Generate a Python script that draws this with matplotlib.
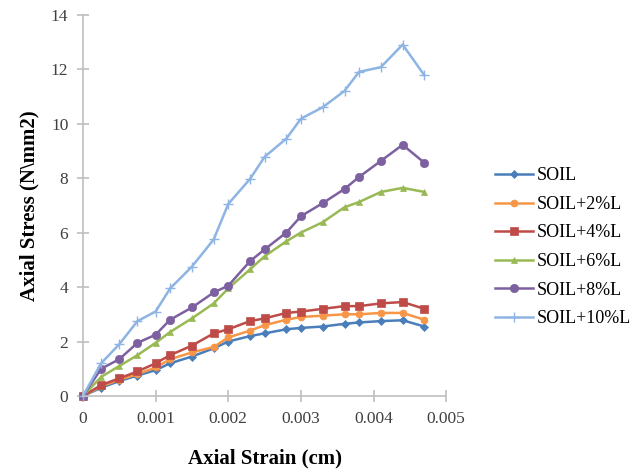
import matplotlib
matplotlib.use("Agg")
import matplotlib.pyplot as plt

plt.rcParams['font.family'] = ['Liberation Serif', 'DejaVu Serif']

strain = [0, 0.00025, 0.0005, 0.00075, 0.001, 0.0012, 0.0015, 0.0018, 0.002,
          0.0023, 0.0025, 0.0028, 0.003, 0.0033, 0.0036, 0.0038, 0.0041, 0.0044, 0.0047]

soil = [0, 0.3, 0.55, 0.75, 0.95, 1.2, 1.45, 1.75, 2.0, 2.2, 2.3, 2.45, 2.5,
        2.55, 2.65, 2.7, 2.75, 2.78, 2.55]
soil_2 = [0, 0.35, 0.6, 0.8, 1.05, 1.35, 1.6, 1.8, 2.15, 2.4, 2.6, 2.8, 2.9,
          2.95, 3.0, 3.0, 3.05, 3.05, 2.8]
soil_4 = [0, 0.4, 0.65, 0.9, 1.2, 1.5, 1.85, 2.3, 2.45, 2.75, 2.85, 3.05, 3.1,
          3.2, 3.3, 3.3, 3.4, 3.45, 3.2]
soil_6 = [0, 0.7, 1.1, 1.5, 1.95, 2.35, 2.85, 3.4, 3.95, 4.65, 5.13, 5.68, 6.0,
          6.38, 6.93, 7.12, 7.49, 7.64, 7.49]
soil_8 = [0, 1.0, 1.35, 1.95, 2.25, 2.8, 3.25, 3.8, 4.05, 4.95, 5.38, 6.0, 6.6,
          7.08, 7.6, 8.04, 8.63, 9.22, 8.56]
soil_10 = [0, 1.2, 1.9, 2.75, 3.1, 3.95, 4.75, 5.75, 7.05, 7.97, 8.78, 9.45, 10.18,
           10.6, 11.2, 11.9, 12.07, 12.9, 11.77]

labels = ['SOIL', 'SOIL+2%L', 'SOIL+4%L', 'SOIL+6%L', 'SOIL+8%L', 'SOIL+10%L']
series = [soil, soil_2, soil_4, soil_6, soil_8, soil_10]
colors = ['#4A7EBB', '#F79646', '#BE4B48', '#98B954', '#7D60A0', '#8EB4E3']
markers = ['D', 'o', 's', '^', 'o', '+']
msizes = [4, 5, 6, 5, 6, 7]

fig = plt.figure(figsize=(6.43, 4.72), dpi=100)
ax = fig.add_axes([0.129, 0.161, 0.565, 0.808])

for y, lab, c, m, ms in zip(series, labels, colors, markers, msizes):
    ax.plot(strain, y, color=c, marker=m, markersize=ms, linewidth=1.8,
            label=lab, clip_on=False, markeredgewidth=1.0 if m == '+' else 0.5)

ax.set_xlim(0, 0.005)
ax.set_ylim(0, 14)
ax.set_xticks([0, 0.001, 0.002, 0.003, 0.004, 0.005])
ax.set_xticklabels(['0', '0.001', '0.002', '0.003', '0.004', '0.005'])
ax.set_yticks(range(0, 15, 2))

for s in ['top', 'right']:
    ax.spines[s].set_visible(False)
for s in ['left', 'bottom']:
    ax.spines[s].set_color('#BFBFBF')
    ax.spines[s].set_linewidth(1.2)
ax.tick_params(axis='both', direction='inout', length=9, width=1.2, color='#BFBFBF',
               labelsize=12.5, labelcolor='#404040', pad=6)

ax.set_xlabel('Axial Strain (cm)', fontsize=15, fontweight='bold', labelpad=16)
ax.set_ylabel('Axial Stress (N\\mm2)', fontsize=15, fontweight='bold', labelpad=8)

ax.legend(loc='center left', bbox_to_anchor=(1.09, 0.39), frameon=False,
          fontsize=13, handlelength=2.1, labelspacing=0.64, handletextpad=0.2)

fig.savefig('out.png', dpi=100)
